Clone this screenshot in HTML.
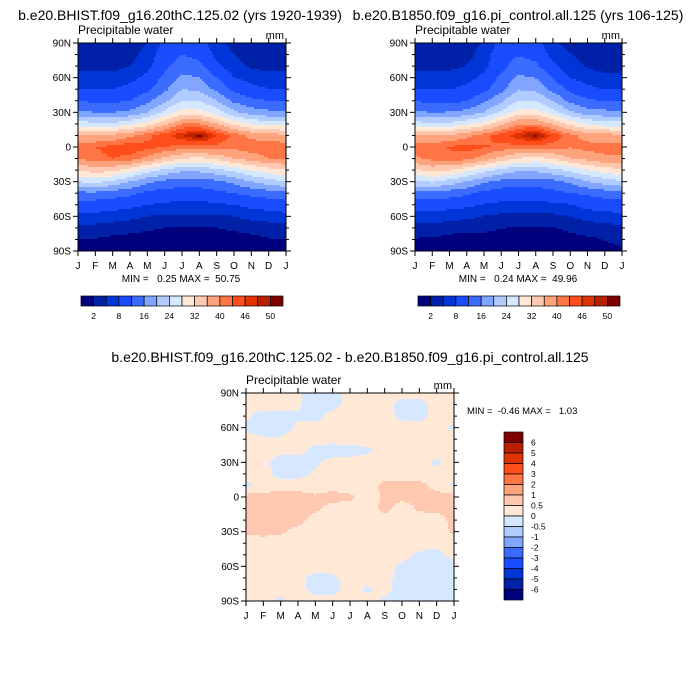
<!DOCTYPE html>
<html><head><meta charset="utf-8">
<style>
html,body{margin:0;padding:0;background:#fff;}
svg{display:block;font-family:"Liberation Sans",Arial,sans-serif;}
text{white-space:pre;}
</style></head>
<body>
<svg id="root" width="700" height="700" viewBox="0 0 700 700" xmlns="http://www.w3.org/2000/svg">
<rect width="700" height="700" fill="#fff"/>
</svg>
<script>
// ---- data ----
const months = ["J","F","M","A","M","J","J","A","S","O","N","D","J"];
const latLabels = ["90N","60N","30N","0","30S","60S","90S"];
const lats = [90,80,70,60,50,40,30,20,10,0,-10,-20,-30,-40,-50,-60,-70,-80,-90];
const pwHist = [
[3,3,3,3.5,5,9,10,9.5,6,4,3,3,3],
[3.5,3.5,3.5,4,6,10,12,11,7,5,3.5,3.5,3.5],
[4,4,4,5,7,11,14,13,9,6,4.5,4,4],
[6,6,6,7,9,13,17,16,12,8,7,6,6],
[8,8,8,9,11,15,20,19,15,11,9,8,8],
[12,11,11,12,15,19,24,24,20,15,13,12,12],
[17,16,16,17,20,25,30,30,26,21,18,17,17],
[26,25,25,27,30,35,40,40,36,31,28,26,26],
[37,36,37,39,42,45,48,51,46,42,39,38,37],
[42,43,44,45,44,43,42,42,42,41,42,42,42],
[40,42,43,42,39,35,32,31,33,36,38,40,40],
[32,34,33,30,26,23,21,21,23,25,28,30,32],
[24,25,23,20,17,15,14,14,15,17,20,22,24],
[15,15,14,13,11,10,10,10,11,12,13,14,15],
[10,10,9.5,9,8,7.5,7,7,7.5,8,9,9.5,10],
[7,7,6.5,6,5,4.5,4.5,4.5,4.5,5,6,6.5,7],
[4,4,3.5,3,2.5,2,2,2,2,2.5,3,3.5,4],
[2,1.8,1.2,1,0.8,0.6,0.5,0.5,0.6,0.8,1.2,1.8,2],
[1.5,1.2,1,0.8,0.6,0.5,0.4,0.4,0.5,0.6,0.8,1.2,1.5]];
const pwDiff = [
[.2,.2,.2,.1,-.4,-.2,.2,.2,.2,.2,.2,.2,.2],
[.2,.2,.2,.1,-.4,-.2,.2,.2,.2,-.2,-.2,.2,.2],
[.1,-.2,-.2,-.1,-.2,.2,.2,.2,.2,-.1,-.2,.2,.1],
[-.1,-.3,-.3,.1,.2,.2,.2,.2,.2,.2,.2,.2,-.1],
[.2,.1,.1,.2,.2,.2,.2,.2,.2,.2,.2,.2,.2],
[.2,.2,.2,.2,-.2,-.3,-.2,-.1,.2,.2,.2,.2,.2],
[.2,.2,-.3,-.3,-.1,.2,.2,.2,.2,.2,.2,-.1,.2],
[.2,.2,-.2,-.2,.1,.2,.2,.2,.2,.2,.2,.2,.2],
[-.1,.1,.3,.3,.2,.3,.2,.2,.7,.7,.7,.3,-.1],
[.7,.7,.8,.7,.6,.7,.6,.2,.6,.7,.6,.7,.7],
[.7,.8,.8,.7,.6,.3,.3,.2,.7,.2,.6,.7,.7],
[.7,.8,.8,.7,.3,.2,.2,.2,.2,.2,.2,.2,.7],
[.6,.7,.6,.3,.2,.2,.2,.2,.2,.2,.2,.2,.6],
[.2,.2,.2,.2,.2,.2,.2,.2,.2,.2,.2,.2,.2],
[.2,.2,.2,.2,.2,.2,.2,.2,.2,.2,-.1,-.2,.2],
[.2,.2,.2,.2,.2,.2,.2,.2,.2,-.1,-.3,-.3,-.2],
[.2,.2,.2,.2,-.2,-.1,.2,.2,.2,-.2,-.3,-.3,-.3],
[.2,.2,.2,.2,-.2,-.2,.2,-.1,.2,-.3,-.3,-.3,-.3],
[.2,.2,-.1,.2,.2,.2,.2,.2,-.1,-.3,-.3,-.3,-.3]];
const pwLevels = [2,5,8,12,16,20,24,28,32,36,40,43,46,48,50];
const pwLevelLabels = ["2","8","16","24","32","40","46","50"];
const diffLevels = [-6,-5,-4,-3,-2,-1,-0.5,0,0.5,1,2,3,4,5,6];
const diffLevelLabels = ["-6","-5","-4","-3","-2","-1","-0.5","0","0.5","1","2","3","4","5","6"];
const colors = ["#00007f","#0020a8","#0035d8","#1a4cff","#3c6cff","#80a6ff","#b3ccff","#d6e8ff","#ffe8d6","#ffc8b0","#ffa37c","#ff7545","#ff4e1c","#e03300","#b82100","#800000"];

const NS="http://www.w3.org/2000/svg";
const root=document.getElementById('root');
function mk(tag,attrs,parent){const e=document.createElementNS(NS,tag);for(const k in attrs)e.setAttribute(k,attrs[k]);(parent||root).appendChild(e);return e;}
function txt(s,x,y,size,anchor,parent,name){const t=mk('text',{x:x,y:y,'font-size':size,'text-anchor':anchor||'start',fill:'#000'},parent);t.textContent=s;


return t;}
function levelIdx(v,lev){let i=0;while(i<lev.length&&v>=lev[i])i++;return i;}
function sample(grid,m,latv){ // bilinear
  const r=Math.max(0,Math.min(18,(90-latv)/10)), c=Math.max(0,Math.min(12,m));
  const r0=Math.min(17,Math.floor(r)), c0=Math.min(11,Math.floor(c));
  const fr=r-r0, fc=c-c0;
  const a=grid[r0][c0],b=grid[r0][c0+1],d=grid[r0+1][c0],e=grid[r0+1][c0+1];
  return a*(1-fr)*(1-fc)+b*(1-fr)*fc+d*fr*(1-fc)+e*fr*fc;
}
function panel(x0,y0,w,h,fn,lev,name){
  const g=mk('g',{},root);
  
  
  const xs=m=>x0+m/12*w, ys=l=>y0+(90-l)/180*h;
  const N=104, sx=w/N, sy=h/N;
  for(let j=0;j<N;j++){
    const latv=90-(j+0.5)/N*180;
    let runStart=0,runC=-1;
    for(let i=0;i<=N;i++){
      let ci=-2;
      if(i<N){const m=(i+0.5)/N*12;ci=levelIdx(fn(m,latv),lev);}
      if(ci!==runC){
        if(runC>=0){const r=mk('rect',{x:(x0+runStart*sx).toFixed(2),y:(y0+j*sy).toFixed(2),width:((i-runStart)*sx+0.4).toFixed(2),height:(sy+0.4).toFixed(2),fill:colors[runC]},g);
          
          }
        runStart=i;runC=ci;
      }
    }
  }
  mk('rect',{x:x0,y:y0,width:w,height:h,fill:'none',stroke:'#000','stroke-width':1},g);
  for(let l=-90;l<=90;l+=10){
    const y=ys(l), major=(l%30===0), len=major?5:3;
    mk('line',{x1:x0-len,y1:y,x2:x0,y2:y,stroke:'#000'},g);
    mk('line',{x1:x0+w,y1:y,x2:x0+w+len,y2:y,stroke:'#000'},g);
  }
  latLabels.forEach((s,i)=>{txt(s,x0-7,ys(90-i*30)+3.5,10,'end',g,'lat-tick-label');});
  months.forEach((s,i)=>{const x=xs(i);
    mk('line',{x1:x,y1:y0+h,x2:x,y2:y0+h+5,stroke:'#000'},g);
    mk('line',{x1:x,y1:y0-5,x2:x,y2:y0,stroke:'#000'},g);
    txt(s,x,y0+h+18,10,'middle',g,'month-tick-label');});
  txt("Precipitable water",x0,y0-9,12,'start',g,'variable-label');
  txt("mm",x0+w-2,y0-4,11,'end',g,'units-label');
  return g;
}
const fHist=(m,l)=>sample(pwHist,m,l);
const fPi=(m,l)=>sample(pwHist,m,l)-sample(pwDiff,m,l);
const fDiff=(m,l)=>sample(pwDiff,m,l);

txt("b.e20.BHIST.f09_g16.20thC.125.02 (yrs 1920-1939)",180,20,14,'middle',root,'left-title');
txt("b.e20.B1850.f09_g16.pi_control.all.125 (yrs 106-125)",518,20,14,'middle',root,'right-title');
panel(78,43,208,208,fHist,pwLevels,'hist-panel');
panel(415,43,207,208,fPi,pwLevels,'picontrol-panel');
txt("MIN =   0.25 MAX =  50.75",181,282,10,'middle',root,'hist-min-max');
txt("MIN =   0.24 MAX =  49.96",518,282,10,'middle',root,'pi-min-max');

function hbar(x0,y0,w,h,name){
  const g=mk('g',{},root);
  
  
  const bw=w/colors.length;
  colors.forEach((c,i)=>{const r=mk('rect',{x:x0+i*bw,y:y0,width:bw,height:h,fill:c,stroke:'#000','stroke-width':0.7},g);
    
    });
  pwLevelLabels.forEach((s,i)=>txt(s,x0+(1+2*i)*bw,y0+h+13,8.5,'middle',g,'colorbar-label'));
}
hbar(81,296,202,10,'hist-colorbar');
hbar(418,296,202,10,'pi-colorbar');

txt("b.e20.BHIST.f09_g16.20thC.125.02 - b.e20.B1850.f09_g16.pi_control.all.125",350,362,14,'middle',root,'diff-title');
panel(246,393,208,208,fDiff,diffLevels,'diff-panel');
txt("MIN =  -0.46 MAX =   1.03",467,414,9.5,'start',root,'diff-min-max');
(function(){
  const g=mk('g',{},root);
  
  
  const x0=504,y0=432,w=19,h=168,bh=h/colors.length;
  for(let i=0;i<colors.length;i++){
    const r=mk('rect',{x:x0,y:y0+i*bh,width:w,height:bh,fill:colors[colors.length-1-i],stroke:'#000','stroke-width':0.7},g);
    
    
  }
  for(let i=0;i<diffLevelLabels.length;i++){
    const s=diffLevelLabels[diffLevelLabels.length-1-i];
    txt(s,x0+w+8,y0+(i+1)*bh+3,8.5,'start',g,'colorbar-label');
  }
})();
</script>
</body></html>
